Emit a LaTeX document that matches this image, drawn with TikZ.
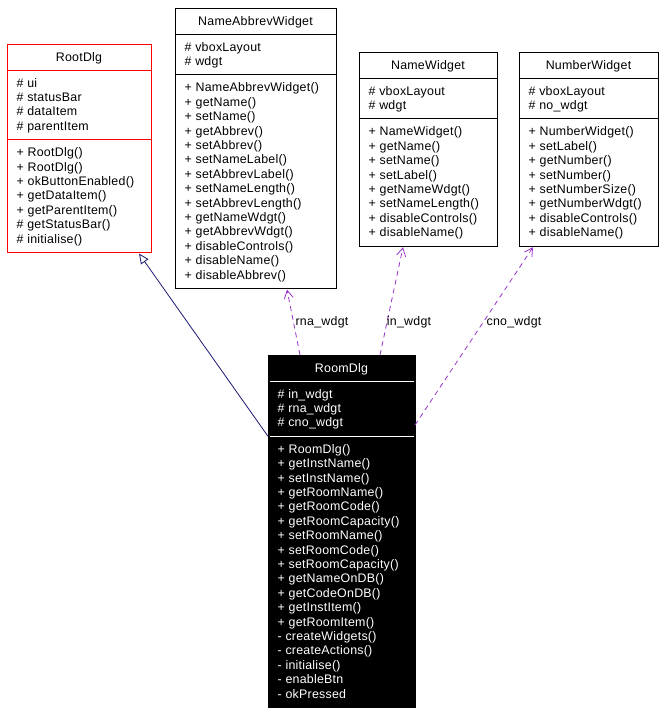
\documentclass[tikz,border=0pt]{standalone}
\usepackage{fontspec}
\setmainfont{Liberation Sans}[LetterSpace=2]
\usetikzlibrary{arrows.meta,calc}
\definecolor{dxpurple}{HTML}{9A32CD}
\definecolor{dxblue}{HTML}{191970}
\definecolor{dxred}{HTML}{FF0000}
\newcommand{\umlfont}{\fontsize{12.4}{14.4}\selectfont}
\newcommand{\umllines}[1]{\begin{tabular}[t]{@{}l@{}}#1\end{tabular}}
\tikzset{
  comp/.style={line width=0.9pt, inner sep=0pt, outer sep=0pt, anchor=north west, boxstyle},
  boxstyle/.style={draw=black, fill=white},
  txtcol/.style={text=black},
  txt/.style={inner sep=0pt, font=\umlfont, txtcol},
  inherit/.style={draw=dxblue, line width=0.8pt, -{Triangle[open, length=10pt, width=9pt, fill=white]}},
  usage/.style={draw=dxpurple, line width=0.8pt, dash pattern=on 5pt off 4pt, -{Straight Barb[length=8pt, width=9pt]}},
  elabel/.style={inner sep=0pt, font=\umlfont, text=black},
}
\newcommand{\umlclass}[9]{%
  \pgfmathsetmacro{\umlha}{26.5+(#6-1)*14.4}%
  \pgfmathsetmacro{\umlhm}{26.5+(#8-1)*14.4}%
  \node[comp, minimum width=#4, minimum height=26] (#1-t) at (#2,#3) {};
  \node[comp, minimum width=#4, minimum height=\umlha] (#1-a) at (#1-t.south west) {};
  \node[comp, minimum width=#4, minimum height=\umlhm] (#1-m) at (#1-a.south west) {};
  \node[txt, anchor=base] (#1-tt) at ($(#1-t.north)+(0,17)$) {#5};
  \node[txt, anchor=base west] (#1-at) at ($(#1-a.north west)+(9.5,17)$) {\umllines{#7}};
  \node[txt, anchor=base west] (#1-mt) at ($(#1-m.north west)+(9.5,17)$) {\umllines{#9}};
}
\begin{document}
\begin{tikzpicture}[x=1pt, y=-1pt]
\useasboundingbox (0,0) rectangle (664,715);

\begin{scope}[boxstyle/.style={draw=dxred, fill=white}]
\umlclass{root}{7}{44}{144}{RootDlg}{4}{\# ui\\ \# statusBar\\ \# dataItem\\ \# parentItem}{7}{+ RootDlg()\\ + RootDlg()\\ + okButtonEnabled()\\ + getDataItem()\\ + getParentItem()\\ \# getStatusBar()\\ \# initialise()}
\end{scope}

\umlclass{nab}{175}{8}{161}{NameAbbrevWidget}{2}{\# vboxLayout\\ \# wdgt}{14}{+ NameAbbrevWidget()\\ + getName()\\ + setName()\\ + getAbbrev()\\ + setAbbrev()\\ + setNameLabel()\\ + setAbbrevLabel()\\ + setNameLength()\\ + setAbbrevLength()\\ + getNameWdgt()\\ + getAbbrevWdgt()\\ + disableControls()\\ + disableName()\\ + disableAbbrev()}

\umlclass{nw}{359}{52}{138}{NameWidget}{2}{\# vboxLayout\\ \# wdgt}{8}{+ NameWidget()\\ + getName()\\ + setName()\\ + setLabel()\\ + getNameWdgt()\\ + setNameLength()\\ + disableControls()\\ + disableName()}

\umlclass{numw}{519}{52}{139}{NumberWidget}{2}{\# vboxLayout\\ \# no\_wdgt}{8}{+ NumberWidget()\\ + setLabel()\\ + getNumber()\\ + setNumber()\\ + setNumberSize()\\ + getNumberWdgt()\\ + disableControls()\\ + disableName()}

\begin{scope}[boxstyle/.style={draw=black, fill=black}, txtcol/.style={text=white}]
\umlclass{room}{268}{355}{147}{RoomDlg}{3}{\# in\_wdgt\\ \# rna\_wdgt\\ \# cno\_wdgt}{18}{+ RoomDlg()\\ + getInstName()\\ + setInstName()\\ + getRoomName()\\ + getRoomCode()\\ + getRoomCapacity()\\ + setRoomName()\\ + setRoomCode()\\ + setRoomCapacity()\\ + getNameOnDB()\\ + getCodeOnDB()\\ + getInstItem()\\ + getRoomItem()\\ - createWidgets()\\ - createActions()\\ - initialise()\\ - enableBtn\\ - okPressed}
\end{scope}
\draw[white, line width=0.9pt, shorten <=1.5pt, shorten >=1.5pt] (room-a.north west) -- (room-a.north east);
\draw[white, line width=0.9pt, shorten <=1.5pt, shorten >=1.5pt] (room-m.north west) -- (room-m.north east);

% connectors
\draw[inherit] (room-m.north west) -- ($(root-m.south east)+(-12,1)$);
\draw[usage] ($(room-t.north west)+(32,0)$) -- ($(nab-m.south west)+(112,1)$);
\draw[usage] ($(room-t.north west)+(112,0)$) -- ($(nw-m.south west)+(44,1)$);
\draw[usage] ($(room-a.north east)+(0,44)$) -- ($(numw-m.south west)+(14,1)$);

\node[elabel] (lrna) at (322,322) {rna\_wdgt};
\node[elabel] (lin) at (409,322) {in\_wdgt};
\node[elabel] (lcno) at (514,322) {cno\_wdgt};
\end{tikzpicture}
\end{document}
